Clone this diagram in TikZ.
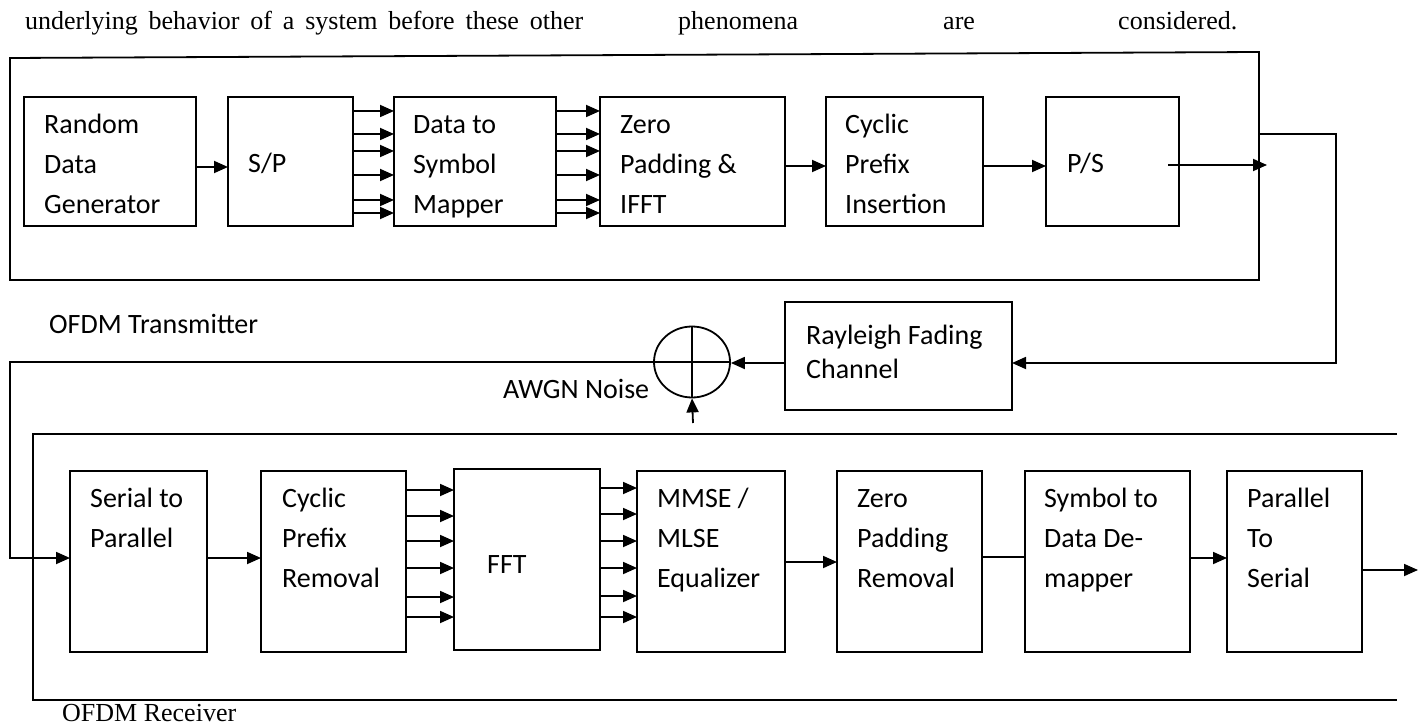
\documentclass[tikz,border=0pt]{standalone}
\usepackage{fontspec}
\setmainfont{Liberation Serif}
\newfontfamily\calib{Carlito}
\usetikzlibrary{arrows.meta,shapes.geometric,calc}
\newcommand\mlines[1]{\begin{tabular}[t]{@{}l@{}}#1\end{tabular}}
\begin{document}
\begin{tikzpicture}[x=1pt,y=-1pt,
  blk/.style={draw, line width=1.8pt, anchor=north west, inner sep=0pt, outer sep=0pt},
  txt/.style={anchor=base west, inner sep=0pt, font=\calib\fontsize{28}{40}\selectfont},
  chtxt/.style={anchor=base west, inner sep=0pt, font=\calib\fontsize{28}{34}\selectfont},
  sertxt/.style={anchor=base west, inner sep=0pt, font=\fontsize{26}{30}\selectfont},
  arr/.style={line width=1.8pt, -{Triangle[length=14pt,width=12pt]}},
  ln/.style={line width=1.8pt}]
\useasboundingbox (0,0) rectangle (1420,727);

% heading line of text
\node[sertxt] (hdr1) at (25,30) {\makebox[558pt][s]{underlying behavior of a system before these other}};
\node[sertxt] (hdr2) at (678,30) {phenomena};
\node[sertxt] (hdr3) at (943,30) {are};
\node[sertxt] (hdr4) at (1118,30) {considered.};

% transmitter frame
\draw[ln] (10,58) -- (1259,52) -- (1259,280) -- (10,280) -- cycle;
\coordinate (txr) at (1259,134);
\coordinate (txout) at (1267,165);
\node[chtxt] (txlab) at (49,333) {OFDM Transmitter};

% transmitter blocks
\node[blk,minimum width=172pt,minimum height=129pt] (rdg) at (24,97) {};
\node[blk,minimum width=125pt,minimum height=129pt] (sp) at (228,97) {};
\node[blk,minimum width=162pt,minimum height=129pt] (map) at (394,97) {};
\node[blk,minimum width=185pt,minimum height=129pt] (zp) at (600,97) {};
\node[blk,minimum width=157pt,minimum height=129pt] (cpi) at (826,97) {};
\node[blk,minimum width=133pt,minimum height=129pt] (ps) at (1046,97) {};

\node[txt] (trdg) at ($(rdg.north west)+(20,37)$) {\mlines{Random\\Data\\Generator}};
\node[txt] (tsp) at ($(sp.north west)+(20,76)$) {S/P};
\node[txt] (tmap) at ($(map.north west)+(19,37)$) {\mlines{Data to\\Symbol\\Mapper}};
\node[txt] (tzp) at ($(zp.north west)+(20,37)$) {\mlines{Zero\\Padding \&\\IFFT}};
\node[txt] (tcpi) at ($(cpi.north west)+(19,37)$) {\mlines{Cyclic\\Prefix\\Insertion}};
\node[txt] (tps) at ($(ps.north west)+(21,76)$) {P/S};

% transmitter connectors
\draw[arr] (rdg.east |- 0,167) -- (sp.west |- 0,167);
\foreach \yy in {111,134,151,175,200,213} {
  \draw[arr] (sp.east |- 0,\yy) -- (map.west |- 0,\yy);
  \draw[arr] (map.east |- 0,\yy) -- (zp.west |- 0,\yy);
}
\draw[arr] (zp.east |- 0,166) -- (cpi.west |- 0,166);
\draw[arr] (cpi.east |- 0,166) -- (ps.west |- 0,166);
\draw[arr] ($(ps.east |- txout)+(-11,0)$) -- (txout);

% channel
\node[blk,minimum width=227pt,minimum height=108pt] (ch) at (785,302) {};
\node[chtxt] (tch) at ($(ch.north west)+(21,42)$) {\mlines{Rayleigh Fading\\Channel}};
\coordinate (rt) at (1336,363);
\draw[arr] (txr) -| (rt) -- (ch.east |- rt);

% summing junction
\node[draw, ellipse, line width=1.8pt, minimum width=76pt, minimum height=71pt, inner sep=0pt] (sum) at (692,362) {};
\draw[ln] (sum.north) -- (sum.south);
\draw[ln] (sum.west) -- (sum.east);
\draw[arr] (ch.west |- rt) -- (sum.east |- rt);
\node[chtxt] (awgn) at (503,398) {AWGN Noise};
\coordinate (noise) at (693,423);
\draw[arr] (noise) -- (sum.south);

% receiver frame
\draw[ln] (1397,434) -- (33,434) -- (33,700) -- (1397,700);
\node[sertxt] (rxlab) at (62,721) {OFDM Receiver};

% receiver blocks
\node[blk,minimum width=137pt,minimum height=181pt] (s2p) at (70,471) {};
\node[blk,minimum width=145pt,minimum height=181pt] (cpr) at (261,471) {};
\node[blk,minimum width=146pt,minimum height=181pt] (fft) at (454,469) {};
\node[blk,minimum width=148pt,minimum height=181pt] (eq) at (637,471) {};
\node[blk,minimum width=145pt,minimum height=181pt] (zpr) at (837,471) {};
\node[blk,minimum width=165pt,minimum height=181pt] (s2d) at (1025,471) {};
\node[blk,minimum width=135pt,minimum height=181pt] (p2s) at (1227,471) {};

\node[txt] (ts2p) at ($(s2p.north west)+(20,36)$) {\mlines{Serial to\\Parallel}};
\node[txt] (tcpr) at ($(cpr.north west)+(21,36)$) {\mlines{Cyclic\\Prefix\\Removal}};
\node[txt] (tfft) at (487,573) {FFT};
\node[txt] (teq) at ($(eq.north west)+(20,36)$) {\mlines{MMSE /\\MLSE\\Equalizer}};
\node[txt] (tzpr) at ($(zpr.north west)+(20,36)$) {\mlines{Zero\\Padding\\Removal}};
\node[txt] (ts2d) at ($(s2d.north west)+(19,36)$) {\mlines{Symbol to\\Data De-\\mapper}};
\node[txt] (tp2s) at ($(p2s.north west)+(20,36)$) {\mlines{Parallel\\To\\Serial}};

% receiver connectors
\coordinate (lc) at (10,362);
\draw[arr] (sum.west) -- (lc) |- (s2p.west |- 0,558);
\draw[arr] (s2p.east |- 0,558) -- (cpr.west |- 0,558);
\foreach \yy in {490,516,541,568,597,617} {
  \draw[arr] (cpr.east |- 0,\yy) -- (fft.west |- 0,\yy);
}
\foreach \yy in {488,514,541,568,596,617} {
  \draw[arr] (fft.east |- 0,\yy) -- (eq.west |- 0,\yy);
}
\draw[arr] (eq.east |- 0,562) -- (zpr.west |- 0,562);
\draw[ln] (zpr.east |- 0,557) -- (s2d.west |- 0,557);
\draw[arr] (s2d.east |- 0,558) -- (p2s.west |- 0,558);
\coordinate (rxout) at (1418,570);
\draw[arr] (p2s.east |- rxout) -- (rxout);
\end{tikzpicture}
\end{document}
